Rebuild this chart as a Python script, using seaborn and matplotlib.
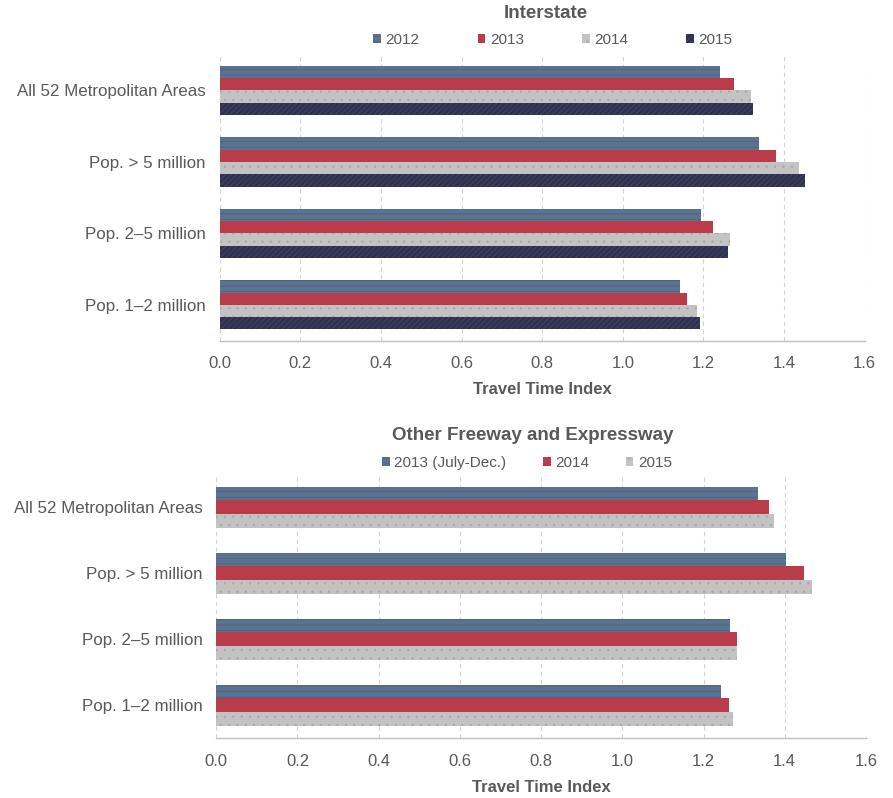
import matplotlib.pyplot as plt
import pandas as pd
import seaborn as sns
from matplotlib.patches import Patch

AREAS = [
    "All 52 Metropolitan Areas",
    "Pop. > 5 million",
    "Pop. 2\u20135 million",
    "Pop. 1\u20132 million",
]

INTERSTATE_YEARS = ["2012", "2013", "2014", "2015"]
INTERSTATE_2012 = [1.242, 1.337, 1.194, 1.142]
INTERSTATE_2013 = [1.275, 1.380, 1.223, 1.160]
INTERSTATE_2014 = [1.319, 1.437, 1.266, 1.184]
INTERSTATE_2015 = [1.324, 1.452, 1.261, 1.192]

FREEWAY_YEARS = ["2013 (July-Dec.)", "2014", "2015"]
FREEWAY_2013 = [1.335, 1.403, 1.266, 1.244]
FREEWAY_2014 = [1.361, 1.447, 1.283, 1.263]
FREEWAY_2015 = [1.373, 1.467, 1.283, 1.273]

X_TICKS = [0.0, 0.2, 0.4, 0.6, 0.8, 1.0, 1.2, 1.4, 1.6]

TEXT = "#595959"
STYLES = {
    "blue": ("#5b7290", "#4b6079", "---"),
    "red": ("#b93c4a", "#b93c4a", ""),
    "gray": ("#c3c3c3", "#a8a8a8", ".."),
    "navy": ("#30304f", "#4a4a6e", "//////"),
}


def long_table(years, series):
    rows = []
    for year, values in zip(years, series):
        for area, value in zip(AREAS, values):
            rows.append({"Area": area, "Year": year, "TTI": value})
    return pd.DataFrame(rows)


def draw_panel(ax, df, years, styles, width, title, title_xy, legend_xy, colspace):
    fig = ax.figure
    sns.barplot(
        data=df, x="TTI", y="Area", hue="Year", hue_order=years,
        order=AREAS, orient="h", width=width, gap=0,
        palette=[STYLES[s][0] for s in styles], legend=False,
        saturation=1, ax=ax, zorder=3, errorbar=None,
    )
    for container, s in zip(ax.containers, styles):
        face, hatch_color, hatch = STYLES[s]
        for bar in container:
            bar.set_facecolor(face)
            bar.set_edgecolor(hatch_color)
            bar.set_linewidth(0)
            bar.set_hatch(hatch)

    ax.set_xlim(0, 1.6)
    ax.set_xticks(X_TICKS)
    ax.set_xticklabels([f"{t:.1f}" for t in X_TICKS])
    ax.xaxis.grid(True, color="#d4d4d4", linestyle=(0, (4, 3)), linewidth=0.8, zorder=0)
    ax.yaxis.grid(False)
    for side in ["top", "right", "left"]:
        ax.spines[side].set_visible(False)
    ax.spines["bottom"].set_color("#bfbfbf")
    ax.spines["bottom"].set_linewidth(1.0)
    ax.tick_params(axis="x", colors="#bfbfbf", labelcolor=TEXT, labelsize=12, length=4, pad=7)
    ax.tick_params(axis="y", length=0, labelcolor=TEXT, labelsize=12.2, pad=10)
    ax.set_ylabel("")
    ax.set_xlabel("Travel Time Index", fontsize=12, fontweight="bold", color=TEXT, labelpad=8)

    fig.text(title_xy[0], title_xy[1], title, ha="center", va="center",
             fontsize=13.5, fontweight="bold", color=TEXT)
    handles = []
    for s, year in zip(styles, years):
        face, hatch_color, hatch = STYLES[s]
        handles.append(Patch(facecolor=face, edgecolor=hatch_color, linewidth=0,
                             hatch=hatch, label=year))
    fig.legend(handles=handles, loc="center", bbox_to_anchor=legend_xy,
               ncol=len(years), frameon=False, fontsize=11, labelcolor=TEXT,
               handlelength=0.5, handleheight=0.6, handletextpad=0.3,
               columnspacing=colspace, borderaxespad=0, borderpad=0)


def main():
    sns.set_theme(style="white")
    plt.rcParams["font.family"] = ["Liberation Sans", "DejaVu Sans"]
    plt.rcParams["hatch.linewidth"] = 0.5

    fig = plt.figure(figsize=(8.93, 7.98), dpi=100)
    top = fig.add_axes([0.246, 0.5731, 0.7223, 0.3583])
    bottom = fig.add_axes([0.2422, 0.0748, 0.7275, 0.3308])

    interstate = long_table(INTERSTATE_YEARS,
                            [INTERSTATE_2012, INTERSTATE_2013, INTERSTATE_2014, INTERSTATE_2015])
    freeway = long_table(FREEWAY_YEARS, [FREEWAY_2013, FREEWAY_2014, FREEWAY_2015])

    draw_panel(top, interstate, INTERSTATE_YEARS, ["blue", "red", "gray", "navy"],
               0.687, "Interstate", (546 / 893, 1 - 14 / 798), (553 / 893, 1 - 40 / 798), 3.8)
    draw_panel(bottom, freeway, FREEWAY_YEARS, ["blue", "red", "gray"],
               0.621, "Other Freeway and Expressway", (533 / 893, 1 - 436 / 798),
               (527 / 893, 1 - 463 / 798), 2.4)

    fig.savefig("out.png", dpi=100)


if __name__ == "__main__":
    main()
